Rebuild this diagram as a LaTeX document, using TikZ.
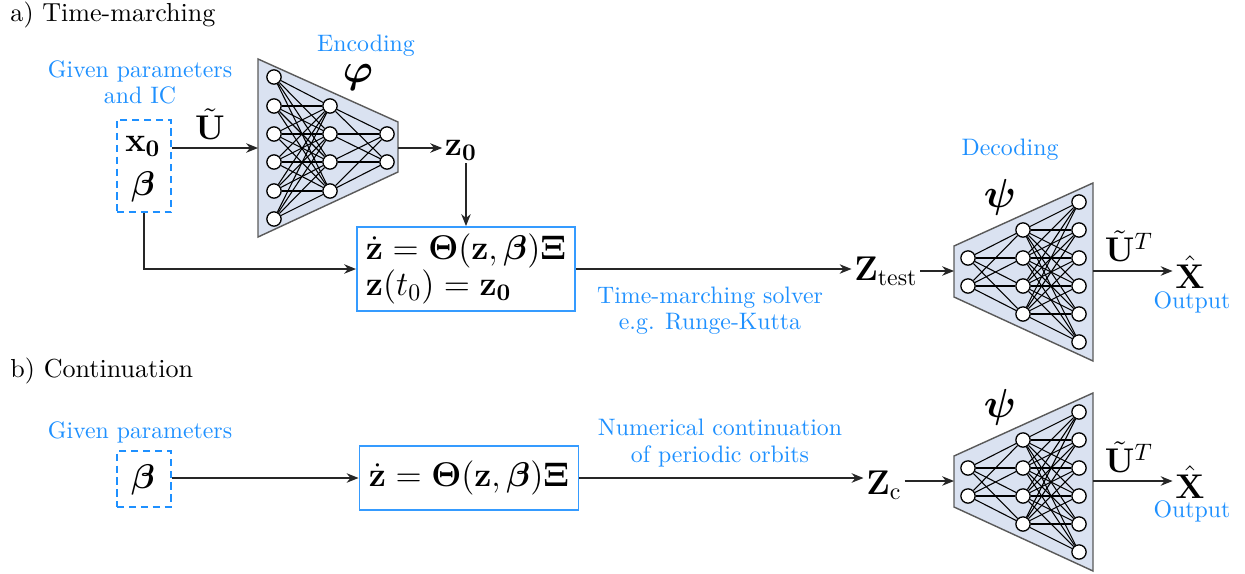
\RequirePackage{fix-cm}
\documentclass[tikz,border=0pt]{standalone}
\usepackage{amsmath,bm}
\usetikzlibrary{arrows.meta}
\definecolor{lblue}{RGB}{30,144,255}
\definecolor{trapfill}{RGB}{218,226,241}
\definecolor{trapdraw}{RGB}{90,90,90}
\newcommand\mydec[2]{%
\begin{scope}[shift={(0,#2)}]
\draw[trap] (954,246) -- (1093,183) -- (1093,361) -- (954,297) -- cycle;
\foreach \i/\y in {1/258,2/286} \node[neuron] (#1a\i) at (968,\y) {};
\foreach \i/\y in {1/230,2/258,3/286,4/314} \node[neuron] (#1b\i) at (1023,\y) {};
\foreach \i/\y in {1/202,2/230,3/258,4/286,5/314,6/342} \node[neuron] (#1c\i) at (1079,\y) {};
\foreach \a in {1,2} \foreach \b in {1,...,4} \draw[wire] (#1a\a) -- (#1b\b);
\foreach \a in {1,...,4} \foreach \b in {1,...,6} \draw[wire] (#1b\a) -- (#1c\b);
\coordinate (#1in) at (954,271);
\coordinate (#1out) at (1093,271);
\end{scope}}
\newcommand\mathfs{\fontsize{14.4}{14}\selectfont}
\newcommand\grkfs{\fontsize{17}{18}\selectfont}
\newcommand\ttlfs{\fontsize{10.95}{13}\selectfont}
\begin{document}
\begin{tikzpicture}[x=0.42pt,y=-0.42pt,
  neuron/.style={circle,draw=black,fill=white,minimum size=6pt,inner sep=0pt,line width=0.55pt},
  wire/.style={line width=0.45pt},
  trap/.style={fill=trapfill,draw=trapdraw,line width=0.6pt},
  conn/.style={line width=0.55pt,draw=black!85,-{Stealth[length=5pt,width=4pt]}},
  lbl/.style={text=lblue,align=center,font=\normalsize,inner sep=1pt},
  eqbox/.style={draw=lblue!90,line width=0.8pt,inner sep=2pt,align=left,font=\mathfs},
  inbox/.style={draw=lblue,line width=0.8pt,dash pattern=on 3pt off 2pt,minimum width=22.7pt},
  mth/.style={font=\mathfs,inner sep=1pt},
  grk/.style={font=\grkfs,inner sep=1pt},
  ttl/.style={font=\ttlfs,anchor=west,inner sep=0pt},
]
\useasboundingbox (0,0) rectangle (1245,573);

% ---------- a) ----------
\node[ttl] (ta) at (10,15) {a) Time-marching};
\node[lbl] (gp1) at (140,82) {Given parameters\\[-1pt]and IC};
\node[lbl] (enc) at (366,46) {Encoding};

\node[inbox,minimum height=39pt] (in1) at (144,166) {};
\node[mth] (x0) at (143,146) {$\mathbf{x_0}$};
\node[mth] (b1) at (143,187) {$\boldsymbol{\beta}$};

% encoder
\draw[trap] (258,59) -- (398,122) -- (398,172) -- (258,237) -- cycle;
\foreach \i/\y in {1/77,2/106,3/134,4/162,5/191,6/219} \node[neuron] (ea\i) at (274,\y) {};
\foreach \i/\y in {1/106,2/134,3/162,4/191} \node[neuron] (eb\i) at (330,\y) {};
\foreach \i/\y in {1/134,2/162} \node[neuron] (ec\i) at (387,\y) {};
\foreach \a in {1,...,6} \foreach \b in {1,...,4} \draw[wire] (ea\a) -- (eb\b);
\foreach \a in {1,...,4} \foreach \b in {1,2} \draw[wire] (eb\a) -- (ec\b);
\coordinate (encin) at (258,148);
\coordinate (encout) at (398,148);
\node[grk] (phi) at (358,77) {$\boldsymbol{\varphi}$};

\node[mth] (ut1) at (210,124) {$\tilde{\mathbf{U}}$};
\draw[conn] (in1.east |- encin) -- (encin);

\node[mth] (z0) at (461,150) {$\mathbf{z_0}$};
\draw[conn] (encout) -- (z0.west |- encout);

\node[eqbox,minimum width=91.6pt,minimum height=35.3pt] (eq1) at (466,269)
  {$\dot{\mathbf{z}} = \mathbf{\Theta}(\mathbf{z},\boldsymbol{\beta})\boldsymbol{\Xi}$\\[-0.5pt]
   $\mathbf{z}(t_0) = \mathbf{z_0}$};
\draw[conn] (z0.south -| eq1.north) -- (eq1.north);
\draw[conn] (in1.south) |- (eq1.west);

\node[mth] (zt) at (886,271) {$\mathbf{Z}_{\text{test}}$};
\draw[conn] (eq1.east) -- (zt.west |- eq1.east);
\node[lbl] (tms) at (710,311) {Time-marching solver\\[-1pt]e.g. Runge-Kutta};

\mydec{d}{0}
\draw[conn] (zt.east |- din) -- (din);
\node[lbl] (dec) at (1010,150) {Decoding};
\node[grk] (psi1) at (1000,197) {$\boldsymbol{\psi}$};
\node[mth] (ud1) at (1129,246) {$\tilde{\mathbf{U}}^T$};
\node[mth] (xh1) at (1190,272) {$\hat{\mathbf{X}}$};
\draw[conn] (dout) -- (xh1.west |- dout);
\node[lbl] (out1) at (1192,302) {Output};

% ---------- b) ----------
\node[ttl] (tb) at (10,371) {b) Continuation};
\node[lbl] (gp2) at (140,432) {Given parameters};
\node[inbox,minimum height=23.5pt] (in2) at (144,479) {};
\node[mth] (b2) at (143,480) {$\boldsymbol{\beta}$};

\node[eqbox,minimum width=92pt,minimum height=26.9pt] (eq2) at (469,478)
  {$\dot{\mathbf{z}} = \mathbf{\Theta}(\mathbf{z},\boldsymbol{\beta})\boldsymbol{\Xi}$};
\draw[conn] (in2.east |- eq2.west) -- (eq2.west);

\node[mth] (zc) at (884,485) {$\mathbf{Z}_{\mathrm{c}}$};
\draw[conn] (eq2.east) -- (zc.west |- eq2.east);
\node[lbl] (nco) at (720,443) {Numerical continuation\\[-1pt]of periodic orbits};

\mydec{f}{210}
\draw[conn] (zc.east |- fin) -- (fin);
\node[grk] (psi2) at (1000,407) {$\boldsymbol{\psi}$};
\node[mth] (ud2) at (1129,457) {$\tilde{\mathbf{U}}^T$};
\node[mth] (xh2) at (1190,482) {$\hat{\mathbf{X}}$};
\draw[conn] (fout) -- (xh2.west |- fout);
\node[lbl] (out2) at (1192,511) {Output};
\end{tikzpicture}
\end{document}
